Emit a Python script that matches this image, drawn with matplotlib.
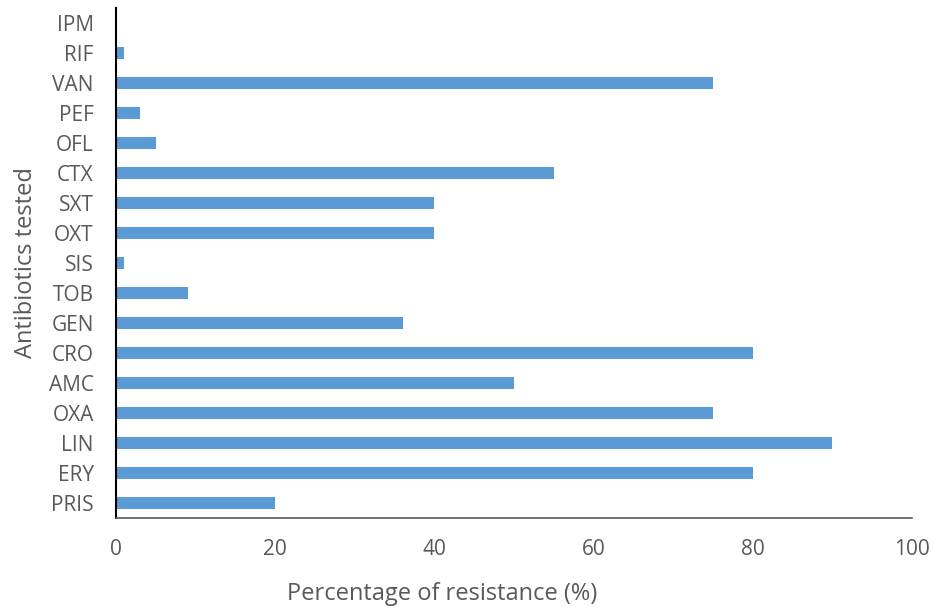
import matplotlib
matplotlib.use("Agg")
import matplotlib.pyplot as plt

antibiotics = ["PRIS", "ERY", "LIN", "OXA", "AMC", "CRO", "GEN", "TOB", "SIS",
               "OXT", "SXT", "CTX", "OFL", "PEF", "VAN", "RIF", "IPM"]
resistance = [20, 80, 90, 75, 50, 80, 36, 9, 1, 40, 40, 55, 5, 3, 75, 1, 0]
xticks = [0, 20, 40, 60, 80, 100]

plt.rcParams['font.family'] = ['Open Sans', 'DejaVu Sans']
grey = '#595959'

fig = plt.figure(figsize=(9.32, 6.11), dpi=100)
ax = fig.add_axes([116/932, 1 - 518/611, (912-116)/932, (518-8)/611])

ax.barh(range(len(antibiotics)), resistance, height=0.4, color='#5B9BD5')
ax.set_xlim(0, 100)
ax.set_ylim(-0.5, len(antibiotics) - 0.5)
ax.set_xticks(xticks)
ax.set_yticks(range(len(antibiotics)))
ax.set_yticklabels(antibiotics)
ax.tick_params(axis='both', length=0, labelsize=15, colors=grey)
ax.tick_params(axis='x', pad=15)
ax.tick_params(axis='y', pad=16)

for s in ['top', 'right']:
    ax.spines[s].set_visible(False)
ax.spines['left'].set_color('black')
ax.spines['left'].set_linewidth(1.5)
ax.spines['bottom'].set_color(grey)
ax.spines['bottom'].set_linewidth(1.2)

ax.set_xlabel('Percentage of resistance (%)', fontsize=17, color=grey, labelpad=18)
ax.xaxis.set_label_coords((442 - 116) / 796, -0.125)
ax.set_ylabel('Antibiotics tested', fontsize=17, color=grey, labelpad=8)

fig.savefig('out.png', dpi=100)
